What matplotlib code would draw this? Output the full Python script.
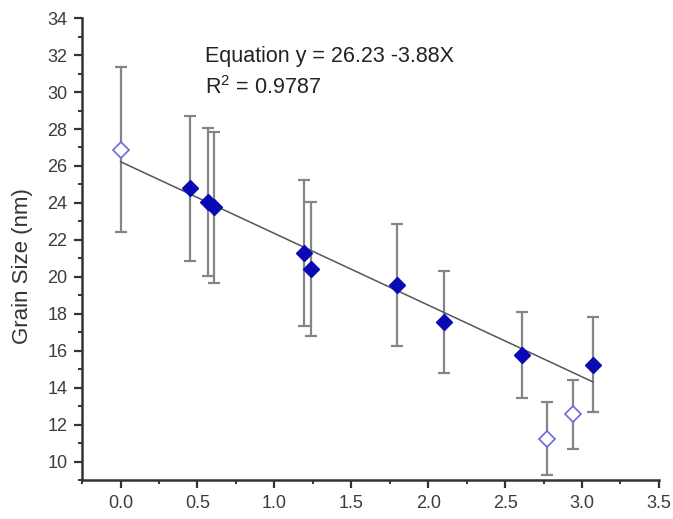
import numpy as np
import matplotlib.pyplot as plt
from matplotlib.ticker import MultipleLocator

plt.rcParams['font.family'] = ['Liberation Sans', 'DejaVu Sans']

# filled points (used in fit)
x_fit = [0.45, 0.57, 0.61, 1.19, 1.24, 1.80, 2.10, 2.61, 3.07]
y_fit = [24.8, 24.05, 23.8, 21.3, 20.4, 19.55, 17.55, 15.75, 15.25]
err_lo = [3.95, 3.98, 4.15, 3.95, 3.6, 3.3, 2.75, 2.3, 2.55]
err_hi = [3.9, 3.98, 4.05, 3.95, 3.65, 3.3, 2.75, 2.35, 2.55]

# open points (excluded)
x_out = [0.0, 2.77, 2.94]
y_out = [26.85, 11.25, 12.55]
out_lo = [4.45, 1.95, 1.85]
out_hi = [4.5, 1.95, 1.85]

intercept = 26.23
slope = -3.88
r2 = 0.9787

fig = plt.figure(figsize=(6.73, 5.19), dpi=100)
ax = fig.add_axes([0.122, 0.075, 0.857, 0.890])

ecol = '#858585'
ax.errorbar(x_fit, y_fit, yerr=[err_lo, err_hi], fmt='none', ecolor=ecol,
            elinewidth=1.6, capsize=4, capthick=1.6, zorder=2)
ax.errorbar(x_out, y_out, yerr=[out_lo, out_hi], fmt='none', ecolor=ecol,
            elinewidth=1.6, capsize=4, capthick=1.6, zorder=2)

xl = np.array([0.0, 3.07])
ax.plot(xl, intercept + slope * xl, color='#555555', lw=1.1, zorder=3)

ax.plot(x_fit, y_fit, 'D', color='#0a0ab4', ms=8.5, mec='#0a0ab4', zorder=4)
ax.plot(x_out, y_out, 'D', mfc='white', mec='#6a6ae0', mew=1.2, ms=8.5, zorder=4)

ax.text(0.55, 31.95, 'Equation y = 26.23 -3.88X', fontsize=15.5, color='#222222',
        va='center')
ax.text(0.55, 30.25, '$\\mathregular{R^2}$ = ' + f'{r2:.4f}', fontsize=15.5,
        color='#222222', va='center')

ax.set_xlim(-0.25, 3.5)
ax.set_ylim(9, 34)
ax.xaxis.set_major_locator(MultipleLocator(0.5))
ax.xaxis.set_minor_locator(MultipleLocator(0.25))
ax.yaxis.set_major_locator(MultipleLocator(2))
ax.yaxis.set_minor_locator(MultipleLocator(1))
ax.set_yticks(np.arange(10, 35, 2))

for s in ['top', 'right']:
    ax.spines[s].set_visible(False)
for s in ['left', 'bottom']:
    ax.spines[s].set_linewidth(1.8)
    ax.spines[s].set_color('#333333')

ax.tick_params(which='major', length=5.5, width=1.6, color='#333333',
               labelsize=13, labelcolor='#3c3c3c', pad=5)
ax.tick_params(which='minor', length=3, width=1.4, color='#333333')
ax.xaxis.set_major_formatter(plt.FuncFormatter(lambda v, p: f'{v:.1f}'))

ax.set_ylabel('Grain Size (nm)', fontsize=16, color='#333333')
ax.yaxis.set_label_coords(-0.085, 0.463)

fig.savefig('out.png', dpi=100)
